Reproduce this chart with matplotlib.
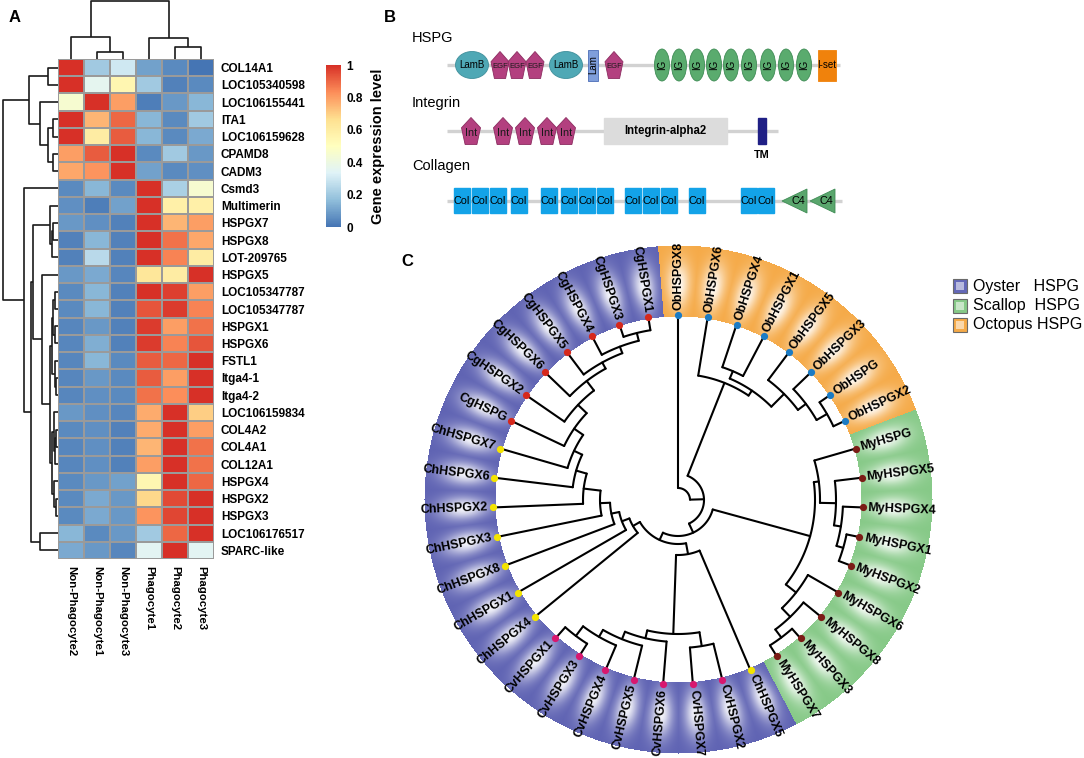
import numpy as np
import matplotlib
matplotlib.use('Agg')
import matplotlib.pyplot as plt
from matplotlib.colors import LinearSegmentedColormap, to_rgb
from matplotlib.patches import Rectangle, Ellipse, Polygon

plt.rcParams['font.family'] = ['Liberation Sans', 'DejaVu Sans']

# ---------------- A: heatmap data ----------------
genes = ['COL14A1', 'LOC105340598', 'LOC106155441', 'ITA1', 'LOC106159628', 'CPAMD8', 'CADM3',
         'Csmd3', 'Multimerin', 'HSPGX7', 'HSPGX8', 'LOT-209765', 'HSPGX5', 'LOC105347787',
         'LOC105347787', 'HSPGX1', 'HSPGX6', 'FSTL1', 'Itga4-1', 'Itga4-2', 'LOC106159834',
         'COL4A2', 'COL4A1', 'COL12A1', 'HSPGX4', 'HSPGX2', 'HSPGX3', 'LOC106176517', 'SPARC-like']
samples = ['Non-Phagocyte2', 'Non-Phagocyte1', 'Non-Phagocyte3', 'Phagocyte1', 'Phagocyte2', 'Phagocyte3']
expr = np.array([
    [1.00, 0.20, 0.30, 0.10, 0.05, 0.00],
    [1.00, 0.36, 0.55, 0.20, 0.03, 0.05],
    [0.45, 1.00, 0.80, 0.02, 0.08, 0.15],
    [1.00, 0.75, 0.90, 0.15, 0.05, 0.20],
    [1.00, 0.60, 0.92, 0.15, 0.05, 0.12],
    [0.80, 0.92, 1.00, 0.05, 0.20, 0.08],
    [0.78, 0.82, 1.00, 0.10, 0.05, 0.06],
    [0.05, 0.15, 0.05, 1.00, 0.22, 0.45],
    [0.06, 0.02, 0.10, 1.00, 0.58, 0.58],
    [0.08, 0.06, 0.03, 1.00, 0.75, 0.80],
    [0.03, 0.15, 0.03, 1.00, 0.88, 0.78],
    [0.03, 0.25, 0.03, 1.00, 0.85, 0.60],
    [0.08, 0.12, 0.04, 0.63, 0.60, 1.00],
    [0.05, 0.15, 0.03, 1.00, 0.97, 0.80],
    [0.05, 0.15, 0.03, 0.93, 0.98, 0.85],
    [0.04, 0.08, 0.03, 0.98, 0.80, 0.88],
    [0.04, 0.13, 0.03, 0.98, 0.85, 0.93],
    [0.04, 0.15, 0.05, 0.92, 0.90, 1.00],
    [0.04, 0.08, 0.05, 0.92, 0.80, 1.00],
    [0.04, 0.06, 0.05, 0.88, 0.83, 1.00],
    [0.08, 0.06, 0.04, 0.77, 1.00, 0.70],
    [0.05, 0.06, 0.03, 0.77, 1.00, 0.80],
    [0.04, 0.06, 0.03, 0.75, 1.00, 0.88],
    [0.04, 0.06, 0.03, 0.80, 1.00, 0.88],
    [0.05, 0.08, 0.10, 0.55, 1.00, 0.90],
    [0.05, 0.12, 0.08, 0.68, 0.95, 1.00],
    [0.05, 0.12, 0.08, 0.82, 0.96, 1.00],
    [0.15, 0.05, 0.08, 0.20, 0.90, 1.00],
    [0.12, 0.08, 0.04, 0.35, 1.00, 0.35],
])

# dendrograms: (height, left, right), leaves are row / column indices
row_top = (0.53, (0.18, 0, 1), (0.33, 2, (0.18, (0.09, 3, 4), (0.09, 5, 6))))
row_mid1 = (0.15, 8, (0.11, (0.09, 9, 10), 11))
row_mid2 = (0.15,
            (0.11, (0.09, (0.05, 13, 14), (0.05, 15, 16)), (0.05, 17, (0.04, 18, 19))),
            (0.11, (0.07, 20, (0.05, (0.04, 21, 22), 23)), (0.07, 24, (0.04, 25, 26))))
row_mid = (0.45, row_mid1, (0.30, 12, row_mid2))
row_bot = (0.62, 7, (0.49, row_mid, (0.33, 27, 28)))
row_tree = (1.0, row_top, row_bot)
col_tree = (1.0, (0.38, 0, (0.12, 1, 2)), (0.36, 3, (0.21, 4, 5)))

# ---------------- C: tree data ----------------
leaves = ['ObHSPGX8', 'ObHSPGX6', 'ObHSPGX4', 'ObHSPGX1', 'ObHSPGX5', 'ObHSPGX3', 'ObHSPG', 'ObHSPGX2',
          'MyHSPG', 'MyHSPGX5', 'MyHSPGX4', 'MyHSPGX1', 'MyHSPGX2', 'MyHSPGX6', 'MyHSPGX8', 'MyHSPGX3',
          'MyHSPGX7', 'ChHSPGX5', 'CvHSPGX2', 'CvHSPGX7', 'CvHSPGX6', 'CvHSPGX5', 'CvHSPGX4',
          'CvHSPGX3', 'CvHSPGX1', 'ChHSPGX4', 'ChHSPGX1', 'ChHSPGX8', 'ChHSPGX3', 'ChHSPGX2',
          'ChHSPGX6', 'ChHSPGX7', 'CgHSPG', 'CgHSPGX2', 'CgHSPGX6', 'CgHSPGX5', 'CgHSPGX4',
          'CgHSPGX3', 'CgHSPGX1']
# node depth (radius of the node, tips at 185)
ob_rest = (126, 'ObHSPGX6', (132, (140, 'ObHSPGX4', 'ObHSPGX1'),
                             (150, 'ObHSPGX5', (160, 'ObHSPGX3', (172, 'ObHSPG', 'ObHSPGX2')))))
my = (137, (142, 'MyHSPG', (158, 'MyHSPGX5', (165, 'MyHSPGX4', (172, 'MyHSPGX1', 'MyHSPGX2')))),
      (150, 'MyHSPGX6', (162, 'MyHSPGX8', (172, 'MyHSPGX3', 'MyHSPGX7'))))
cv = (134, (148, 'CvHSPGX2', 'CvHSPGX7'),
      (142, 'CvHSPGX6', (150, 'CvHSPGX5', (158, 'CvHSPGX4', (170, 'CvHSPGX3', 'CvHSPGX1')))))
ladder_names = ['ChHSPGX4', 'ChHSPGX1', 'ChHSPGX8', 'ChHSPGX3', 'ChHSPGX2', 'ChHSPGX6', 'ChHSPGX7',
                'CgHSPG', 'CgHSPGX2', 'CgHSPGX6', 'CgHSPGX5', 'CgHSPGX4', 'CgHSPGX3', 'CgHSPGX1']
ladder_depth = [52, 60, 68, 78, 95, 106, 115, 126, 138, 150, 157, 164, 172]

def ladder(names, depths):
    node = (depths[-1], names[-2], names[-1])
    for nm, d in zip(names[-3::-1], depths[-2::-1]):
        node = (d, nm, node)
    return node

chcg = ladder(ladder_names, ladder_depth)
purple = (44, (55, 'ChHSPGX5', cv), chcg)
tree = (12, 'ObHSPGX8', (26, ob_rest, (36, my, purple)))

dot_colors = {'Ob': '#1b7bc4', 'My': '#7b1c16', 'Cg': '#d6281c', 'Ch': '#f4e400', 'Cv': '#d8176f'}
ring_colors = {'Ob': '#f5aa48', 'My': '#86c987', 'Cg': '#5f63b3', 'Ch': '#5f63b3', 'Cv': '#5f63b3'}
legend_names = ['Oyster   HSPG', 'Scallop  HSPG', 'Octopus HSPG']
legend_cols = ['#6468b8', '#86c987', '#f5aa48']

# ---------------- figure ----------------
W, H = 1084, 758
fig = plt.figure(figsize=(W / 100, H / 100), dpi=100)

def px_axes(x0, y0, x1, y1):
    return fig.add_axes([x0 / W, 1 - y1 / H, (x1 - x0) / W, (y1 - y0) / H])

cmap = LinearSegmentedColormap.from_list(
    'ph', ['#4575B4', '#91BFDB', '#E0F3F8', '#FFFFBF', '#FEE090', '#FC8D59', '#D73027'])

ax = px_axes(58, 59, 214, 559)
mesh = ax.pcolormesh(np.arange(7) - 0.5, np.arange(30) - 0.5, expr, cmap=cmap, vmin=0, vmax=1,
                     edgecolors='#9a9a9a', linewidth=0.35)
ax.set_xlim(-0.5, 5.5)
ax.set_ylim(28.5, -0.5)
ax.set_yticks(range(len(genes)))
ax.set_yticklabels(genes, fontsize=8.5, fontweight='bold')
ax.yaxis.tick_right()
ax.set_xticks(range(len(samples)))
ax.set_xticklabels(samples, fontsize=8.2, fontweight='bold', rotation=270)
ax.tick_params(length=0, pad=5)
for s in ax.spines.values():
    s.set_visible(False)

def dend(a, node, vertical):
    if isinstance(node, int):
        return node, 0.0
    h, l, r = node
    pl, hl = dend(a, l, vertical)
    pr, hr = dend(a, r, vertical)
    xs, ys = [pl, pl, pr, pr], [hl, h, h, hr]
    if vertical:
        a.plot(xs, ys, color='#1a1a1a', lw=1.2, clip_on=False, solid_capstyle='butt')
    else:
        a.plot(ys, xs, color='#1a1a1a', lw=1.2, clip_on=False, solid_capstyle='butt')
    return (pl + pr) / 2, h

axr = px_axes(3, 59, 58, 559)
dend(axr, row_tree, False)
axr.set_xlim(1.0, 0)
axr.set_ylim(28.5, -0.5)
axr.axis('off')

axc = px_axes(58, 1, 214, 59)
dend(axc, col_tree, True)
axc.set_xlim(-0.5, 5.5)
axc.set_ylim(0, 1.0)
axc.axis('off')

cax = px_axes(326, 65, 341, 227)
cb = fig.colorbar(mesh, cax=cax, ticks=[0, 0.2, 0.4, 0.6, 0.8, 1])
cb.ax.set_yticklabels(['0', '0.2', '0.4', '0.6', '0.8', '1'], fontsize=8.5, fontweight='bold')
cb.outline.set_visible(False)
cb.ax.tick_params(length=0, pad=4)
cb.set_label('Gene expression level', fontsize=10.5, fontweight='bold', labelpad=6)

# ---------------- overlay in pixel units (B and C) ----------------
ax0 = fig.add_axes([0, 0, 1, 1])
ax0.axis('off')

for lab, x, y in [('A', 15, 17), ('B', 390, 17), ('C', 407, 262)]:
    ax0.text(x, y, lab, fontsize=12, fontweight='bold', ha='center', va='center')

# B: domain architecture
track_col = '#d2d2d2'
for name, y, ty, x0, x1 in [('HSPG', 65, 38, 447, 840), ('Integrin', 131, 103, 447, 778),
                            ('Collagen', 201, 166, 447, 842)]:
    ax0.plot([x0, x1], [y, y], color=track_col, lw=2.4, solid_capstyle='butt', zorder=1)
    ax0.text(412, ty, name, fontsize=10.5, ha='left', va='center')

def pentagon(x, y, w, h, color, label, fs):
    pts = [(x, y - h / 2), (x + w / 2, y - h / 2 + 0.38 * h), (x + 0.31 * w, y + h / 2),
           (x - 0.31 * w, y + h / 2), (x - w / 2, y - h / 2 + 0.38 * h)]
    ax0.add_patch(Polygon(pts, closed=True, fc=color, ec='#8c2c60', lw=0.6, zorder=3))
    ax0.text(x, y + 2, label, fontsize=fs, ha='center', va='center', color='#1a1a1a', zorder=4)

hspg_lamb = [472, 566]
hspg_egf = [500, 517, 535, 614]
hspg_lam = [593]
hspg_ig = [662, 679, 697, 714, 731, 749, 768, 786, 804]
hspg_iset = [827]
int_int = [471, 503, 525, 547, 566]
int_alpha = [(604, 727)]
int_tm = [762]
col_col = [462, 480, 498, 519, 549, 569, 587, 605, 633, 651, 669, 697, 749, 766]
col_c4 = [795, 823]

for x in hspg_lamb:
    ax0.add_patch(Ellipse((x, 65), 33, 27, fc='#4fa8b5', ec='#3f8f9b', lw=0.6, zorder=3))
    ax0.text(x, 65, 'LamB', fontsize=7, ha='center', va='center', zorder=4)
for x in hspg_egf:
    pentagon(x, 65, 18, 27, '#b3407f', 'EGF', 5.5)
for x in hspg_lam:
    ax0.add_patch(Rectangle((x - 5, 50), 10, 31, fc='#7f9edb', ec='#4b6cb7', lw=0.6, zorder=3))
    ax0.text(x, 65, 'Lam', fontsize=7, ha='center', va='center', rotation=90, zorder=4)
for x in hspg_ig:
    ax0.add_patch(Ellipse((x, 65), 15, 32, fc='#5aab6e', ec='#3f8c55', lw=0.6, zorder=3))
    ax0.text(x, 65, 'IG', fontsize=7, ha='center', va='center', rotation=90, zorder=4)
for x in hspg_iset:
    ax0.add_patch(Rectangle((x - 9, 50), 18, 31, fc='#f0820c', ec='#f0820c', lw=0.6, zorder=3))
    ax0.text(x, 65, 'I-set', fontsize=7, ha='center', va='center', zorder=4)
for x in int_int:
    pentagon(x, 131, 19, 27, '#b3407f', 'Int', 7.8)
for x0, x1 in int_alpha:
    ax0.add_patch(Rectangle((x0, 118), x1 - x0, 26, fc='#dcdcdc', ec='#dcdcdc', zorder=3))
    ax0.text((x0 + x1) / 2, 131, 'Integrin-alpha2', fontsize=8.3, fontweight='bold',
             ha='center', va='center', zorder=4)
for x in int_tm:
    ax0.add_patch(Rectangle((x - 4, 118), 8, 26, fc='#1f1f85', ec='#1f1f85', zorder=3))
    ax0.text(x, 155, 'TM', fontsize=7.8, fontweight='bold', ha='center', va='center')
for x in col_col:
    ax0.add_patch(Rectangle((x - 8, 188), 16, 25, fc='#13a3e8', ec='#13a3e8', zorder=3))
    ax0.text(x, 201, 'Col', fontsize=7.8, ha='center', va='center', zorder=4)
for x in col_c4:
    ax0.add_patch(Polygon([(x - 13, 201), (x + 12, 189), (x + 12, 213)], closed=True,
                          fc='#5aa66d', ec='#3f8c55', lw=0.6, zorder=3))
    ax0.text(x + 3, 201, 'C4', fontsize=7.8, ha='center', va='center', zorder=4)

# C: circular tree
cx, cy = 678, 500
R_in, R_out, R_tip = 183, 254, 185
n = len(leaves)
step = 360.0 / n

def leaf_angle(i):
    return 90 - i * step

# coloured ring with a soft glow in each cell
xs = np.arange(cx - R_out - 1, cx + R_out + 2)
ys = np.arange(cy - R_out - 1, cy + R_out + 2)
X, Y = np.meshgrid(xs, ys)
rr = np.hypot(X - cx, Y - cy)
ang = np.degrees(np.arctan2(-(Y - cy), X - cx))
t = (90 - ang) / step
k = np.round(t)
f = t - k
idx = (k.astype(int)) % n
base = np.array([to_rgb(ring_colors[nm[:2]]) for nm in leaves])[idx]
rf = (rr - R_in) / (R_out - R_in)
w = 0.93 * np.exp(-(f / 0.32) ** 2) * np.exp(-((rf - 0.45) / 0.33) ** 2)
img = np.zeros(X.shape + (4,))
img[..., :3] = base * (1 - w[..., None]) + w[..., None]
img[..., 3] = ((rr >= R_in) & (rr <= R_out)).astype(float)
ax0.imshow(img, extent=(xs[0] - 0.5, xs[-1] + 0.5, ys[-1] + 0.5, ys[0] - 0.5),
           interpolation='bilinear', zorder=1, aspect='auto')

def pol(r, a):
    return cx + r * np.cos(np.radians(a)), cy - r * np.sin(np.radians(a))

def draw_tree(node):
    if isinstance(node, str):
        return leaf_angle(leaves.index(node)), R_tip
    r = node[0]
    res = [draw_tree(c) for c in node[1:]]
    angs = [a for a, _ in res]
    for a, rc in res:
        (x0, y0), (x1, y1) = pol(r, a), pol(rc, a)
        ax0.plot([x0, x1], [y0, y1], color='black', lw=1.5, solid_capstyle='round', zorder=3)
    aa = np.linspace(min(angs), max(angs), 80)
    px, py = pol(r, aa)
    ax0.plot(px, py, color='black', lw=1.5, solid_capstyle='round', zorder=3)
    return (angs[0] + angs[-1]) / 2, r

draw_tree(tree)

for i, nm in enumerate(leaves):
    a = leaf_angle(i)
    x, y = pol(R_tip, a)
    ax0.plot(x, y, 'o', ms=5.2, color=dot_colors[nm[:2]], mec='none', zorder=5)
    an = a % 360
    tx, ty = pol(R_tip + 5, a)
    if 90 < an < 270:
        ax0.text(tx, ty, nm, rotation=an + 180, ha='right', va='center', rotation_mode='anchor',
                 fontsize=9, fontweight='bold', zorder=6)
    else:
        ax0.text(tx, ty, nm, rotation=an, ha='left', va='center', rotation_mode='anchor',
                 fontsize=9, fontweight='bold', zorder=6)

# legend
for j, (lab, col) in enumerate(zip(legend_names, legend_cols)):
    y = 286 + j * 19.5
    ax0.add_patch(Rectangle((953, y - 7), 14, 14, fc=col, ec='#6a6a6a', lw=0.8, zorder=3))
    ax0.add_patch(Rectangle((956, y - 4), 8, 8, fc='white', ec='none', alpha=0.55, zorder=4))
    ax0.text(973, y, lab, fontsize=11.5, ha='left', va='center')

ax0.set_xlim(0, W)
ax0.set_ylim(H, 0)

fig.savefig('out.png', dpi=100)
